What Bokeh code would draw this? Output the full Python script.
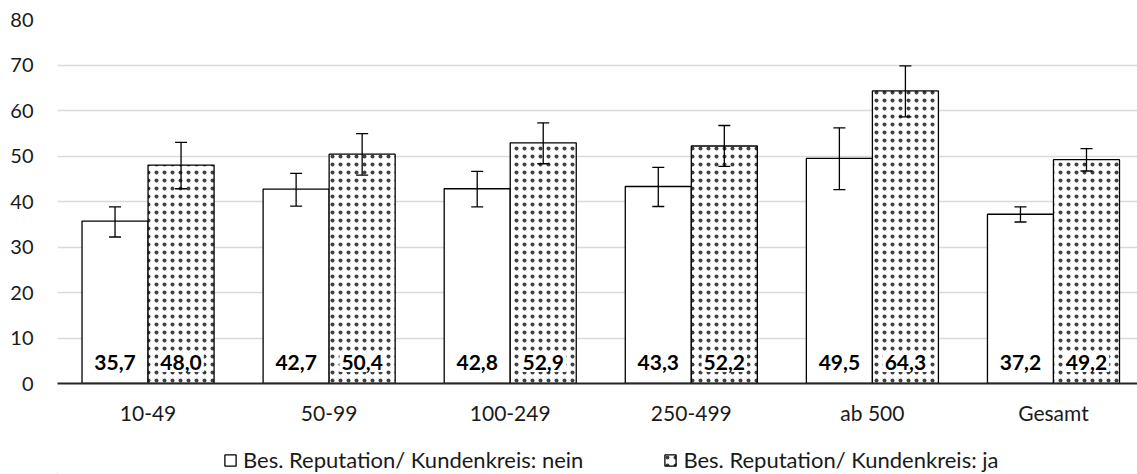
from bokeh.plotting import figure
from bokeh.layouts import column
from bokeh.models import (Range1d, FixedTicker, Whisker, ColumnDataSource, Legend,
                          LegendItem, TeeHead)
from bokeh.embed import file_html
from bokeh.resources import INLINE
from bokeh.core.properties import value

categories = ["10-49", "50-99", "100-249", "250-499", "ab 500", "Gesamt"]
nein = [35.7, 42.7, 42.8, 43.3, 49.5, 37.2]
ja = [48.0, 50.4, 52.9, 52.2, 64.3, 49.2]
nein_lower = [32.2, 39.0, 38.8, 38.9, 42.6, 35.5]
nein_upper = [38.8, 46.2, 46.6, 47.5, 56.2, 38.8]
ja_lower = [42.8, 45.8, 48.3, 47.7, 58.6, 46.7]
ja_upper = [53.0, 54.9, 57.3, 56.7, 69.8, 51.6]
series_names = ["Bes. Reputation/ Kundenkreis: nein", "Bes. Reputation/ Kundenkreis: ja"]
y_ticks = [0, 10, 20, 30, 40, 50, 60, 70, 80]

FONT = "Lato"
BAR_W = 0.3646
LABEL_Y = 4.6
W = 1137

centers = [i + 0.5 for i in range(len(categories))]
x_nein = [c - BAR_W / 2 for c in centers]
x_ja = [c + BAR_W / 2 for c in centers]

def fmt(v):
    return f"{v:.1f}".replace(".", ",")

src_nein = ColumnDataSource(dict(x=x_nein, top=nein, lower=nein_lower, upper=nein_upper,
                                 lab=[fmt(v) for v in nein]))
src_ja = ColumnDataSource(dict(x=x_ja, top=ja, lower=ja_lower, upper=ja_upper,
                               lab=[fmt(v) for v in ja]))

NEIN_STYLE = dict(fill_color="white", line_color="black", line_width=1.3)
JA_STYLE = dict(fill_color="white", line_color="black", line_width=1.3,
                hatch_pattern="dot", hatch_color="black", hatch_scale=8, hatch_alpha=0.75)

# ---------------- main chart ----------------
p = figure(width=W, height=431, x_range=Range1d(0, 5.964), y_range=Range1d(0, 80),
           output_backend="svg", toolbar_location=None,
           min_border_left=57, min_border_right=0, min_border_top=19, min_border_bottom=48)
p.outline_line_color = None
p.background_fill_color = "white"
p.border_fill_color = "white"

p.xgrid.grid_line_color = None
p.ygrid.ticker = FixedTicker(ticks=y_ticks)
p.ygrid.grid_line_color = "#d9d9d9"
p.ygrid.grid_line_width = 1.5

p.yaxis.ticker = FixedTicker(ticks=y_ticks)
p.yaxis.axis_line_color = None
p.yaxis.major_tick_line_color = None
p.yaxis.major_tick_out = 0
p.yaxis.minor_tick_line_color = None
p.yaxis.major_label_standoff = 24
p.yaxis.major_label_text_font = FONT
p.yaxis.major_label_text_font_size = "20px"
p.yaxis.major_label_text_color = "#1a1a1a"

p.xaxis.ticker = FixedTicker(ticks=centers)
p.xaxis.major_label_overrides = {c: cat for c, cat in zip(centers, categories)}
p.xaxis.axis_line_color = "#262626"
p.xaxis.axis_line_width = 1.8
p.xaxis.major_tick_line_color = None
p.xaxis.major_tick_out = 0
p.xaxis.minor_tick_line_color = None
p.xaxis.minor_tick_out = 0
p.xaxis.major_label_standoff = 16
p.xaxis.major_label_text_font = FONT
p.xaxis.major_label_text_font_size = "21px"
p.xaxis.major_label_text_color = "#1a1a1a"

p.vbar(x="x", top="top", width=BAR_W, bottom=0, source=src_nein, **NEIN_STYLE)
p.vbar(x="x", top="top", width=BAR_W, bottom=0, source=src_ja, **JA_STYLE)

for src in (src_nein, src_ja):
    w = Whisker(source=src, base="x", upper="upper", lower="lower",
                line_color="black", line_width=1.3, level="annotation",
                upper_head=TeeHead(size=12, line_color="black", line_width=1.3),
                lower_head=TeeHead(size=12, line_color="black", line_width=1.3))
    p.add_layout(w)

p.text(x="x", y=LABEL_Y, text="lab", source=src_nein, text_font=value(FONT),
       text_font_style="bold", text_font_size="21px", text_align="center",
       text_baseline="middle", text_color="black")
p.text(x="x", y=LABEL_Y, text="lab", source=src_ja, text_font=value(FONT),
       text_font_style="bold", text_font_size="21px", text_align="center",
       text_baseline="middle", text_color="black",
       background_fill_color="white", padding=2)

# ---------------- legend strip ----------------
q = figure(width=W, height=43, x_range=Range1d(0, 1), y_range=Range1d(0, 1),
           output_backend="svg", toolbar_location=None,
           x_axis_location=None, y_axis_location=None,
           min_border_left=57, min_border_right=0, min_border_top=0, min_border_bottom=0)
q.outline_line_color = None
q.grid.grid_line_color = None
q.background_fill_color = "white"
q.border_fill_color = "white"

# legend-only proxies (far outside the visible range, they only supply legend swatches)
proxy = dict(x=[-500], top=[-500])
lr_nein = q.vbar(x="x", top="top", width=1, bottom=-501,
                 source=ColumnDataSource(dict(proxy)), **NEIN_STYLE)
lr_ja = q.vbar(x="x", top="top", width=1, bottom=-501,
               source=ColumnDataSource(dict(proxy)), **JA_STYLE)

legend = Legend(items=[LegendItem(label=series_names[0], renderers=[lr_nein]),
                       LegendItem(label=series_names[1], renderers=[lr_ja])],
                orientation="horizontal", location=(166, 1),
                padding=0, margin=0, spacing=80, glyph_width=14, glyph_height=14,
                label_standoff=6, label_text_font=FONT, label_text_font_size="22px",
                label_text_color="#1a1a1a",
                border_line_color=None, background_fill_alpha=0)
q.add_layout(legend, "center")

layout = column(p, q, spacing=0)
open("out.html", "w").write(file_html(layout, INLINE))
